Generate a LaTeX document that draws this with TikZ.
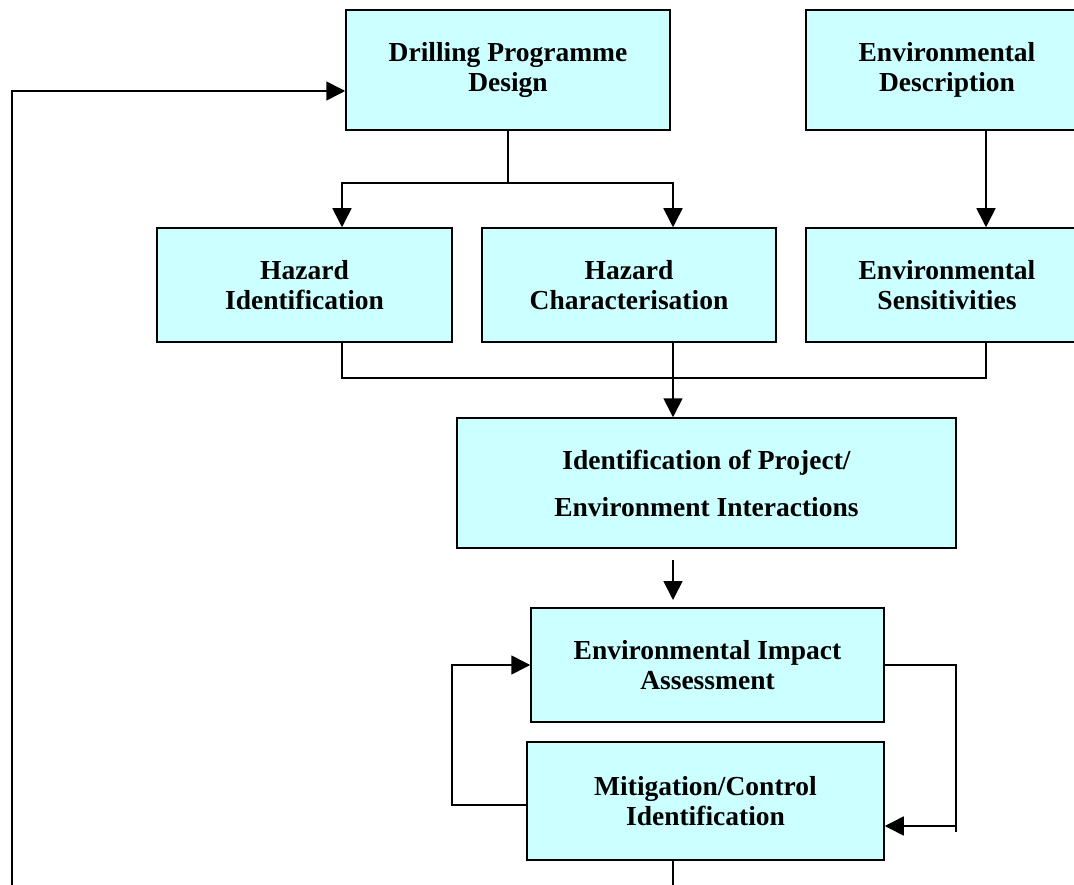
\documentclass[tikz,border=0pt]{standalone}
\usepackage{fontspec}
\setmainfont{Liberation Serif}
\usetikzlibrary{arrows.meta}

\tikzset{
    box/.style={draw, line width=1.5pt, fill={rgb,255:red,204;green,255;blue,255},
        inner sep=0pt, align=center, font=\fontsize{27.5}{30}\selectfont\bfseries,
        execute at begin node=\rule{0pt}{27pt}},
    arr/.style={-{Triangle[length=19pt,width=19pt]}},
}

\begin{document}
\begin{tikzpicture}[x=1pt, y=-1pt, line width=1.6pt]
                \useasboundingbox (0,0) rectangle (1074,885);
                \clip (0,0) rectangle (1074,885);

                % boxes
                \node[box, minimum width=324pt, minimum height=120pt] (dpd) at (508,70) {Drilling Programme\\Design};
                \node[box, minimum width=282pt, minimum height=120pt] (envdesc) at (947,70) {Environmental\\Description};
                \node[box, minimum width=295pt, minimum height=114pt] (hazid) at (304.5,285) {Hazard\\Identification};
                \node[box, minimum width=294pt, minimum height=114pt] (hazchar) at (629,285) {Hazard\\Characterisation};
                \node[box, minimum width=282pt, minimum height=114pt] (envsens) at (947,285) {Environmental\\Sensitivities};
                \node[box, minimum width=499pt, minimum height=130pt] (ident) at (706.5,483) {Identification of Project/\\[17pt]Environment Interactions};
                \node[box, minimum width=353pt, minimum height=114pt] (eia) at (707.5,665) {Environmental Impact\\Assessment};
                \node[box, minimum width=357pt, minimum height=118pt] (mitig) at (705.5,801) {Mitigation/Control\\Identification};

                % connectors
                \coordinate (split) at (508,183);
                \draw (dpd.south) -- (split);
                \draw[arr] (split) -| ([xshift=37.5pt]hazid.north);
                \draw[arr] (split) -| ([xshift=44pt]hazchar.north);
                \draw[arr] ([xshift=39pt]envdesc.south) -- ([xshift=39pt]envsens.north);

                \draw ([xshift=37.5pt]hazid.south) -- ++(0,35) -| ([xshift=39pt]envsens.south);
                \draw[arr] ([xshift=44pt]hazchar.south) -- ([xshift=-33.5pt]ident.north);

                \coordinate (free1) at (673,560);
                \coordinate (free2) at (673,600);
                \draw[arr] (free1) -- (free2);

                \draw[arr] ([yshift=-4pt]mitig.west) -- ++(-74,0) |- (eia.west);
                \coordinate (back) at (956,826);
                \draw (eia.east) -| (back) -- ++(0,6);
                \draw[arr] (back) -- (mitig.east |- back);

                \draw ([xshift=-32.5pt]mitig.south) -- ++(0,30);

                \coordinate (loop) at (12,890);
                \draw[arr] (loop) |- ([yshift=-21pt]dpd.west);
            \end{tikzpicture}
\end{document}
